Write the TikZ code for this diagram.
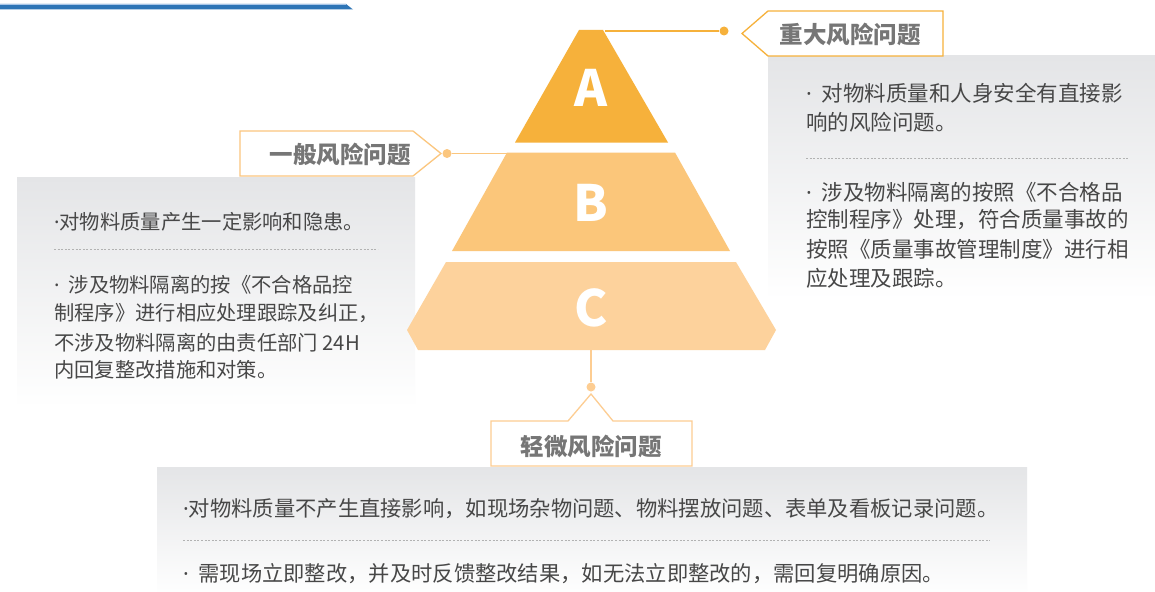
\documentclass[tikz,border=0pt]{standalone}
\usepackage{fontspec}
\newfontfamily\cjk{Noto Sans CJK SC}
\newfontfamily\latn{Noto Sans}
\newcommand{\mdot}{{\latn ·}}
\newcommand{\mdotsp}{{\latn ·}\hspace{0.45em}}
\definecolor{barblue}{HTML}{2E75B6}
\definecolor{barlight}{HTML}{A9C6E8}
\definecolor{cA}{HTML}{F6B13B}
\definecolor{cB}{HTML}{FBC67A}
\definecolor{cC}{HTML}{FDD29C}
\definecolor{lineB}{HTML}{FBC67E}
\definecolor{lineC}{HTML}{FDCD92}
\definecolor{boxgray}{HTML}{E4E5E7}
\definecolor{textgray}{HTML}{474747}
\definecolor{lblgray}{HTML}{767676}
\begin{document}
\begin{tikzpicture}[x=1pt,y=-1pt,
  bodyR/.style={font=\cjk\fontsize{21.5}{29}\selectfont, text=textgray, anchor=west, inner sep=0},
  bodyL/.style={font=\cjk\fontsize{20.3}{29}\selectfont, text=textgray, anchor=west, inner sep=0},
  bodyB/.style={font=\cjk\fontsize{21.3}{29}\selectfont, text=textgray, anchor=west, inner sep=0},
  lbl/.style={font=\cjk\bfseries\fontsize{23.5}{27}\selectfont, text=lblgray, inner sep=0},
  letter/.style={font=\cjk\bfseries\fontsize{50}{50}\selectfont, text=white, inner sep=0},
  sepline/.style={draw=gray!60, line width=0.6pt, dash pattern=on 2pt off 1.6pt},
  dotnode/.style={circle, inner sep=0, minimum size=9pt},
  conn/.style={line width=1.3pt},
  frame/.style={line width=1.3pt, fill=white}
]
\useasboundingbox (0,0) rectangle (1155,591);
\fill[white] (0,0) rectangle (1155,591);

% top blue bar
\fill[barblue] (0,4) -- (346,4) -- (353,9.5) -- (0,9.5) -- cycle;
\draw[barlight, line width=0.8pt] (0,4.2) -- (346,4.2);

% gray text boxes
\shade[top color=boxgray, bottom color=white] (768,56) rectangle (1155,300);
\shade[top color=boxgray, bottom color=white] (17,177) rectangle (415,408);
\shade[top color=boxgray, bottom color=white!96!boxgray] (157,467) rectangle (1027,591);

% pyramid
\fill[cA] (579,30) -- (603,30) -- (668,142.5) -- (515,142.5) -- cycle;
\fill[cB] (507,152.5) -- (675,152.5) -- (730,251) -- (452,251) -- cycle;
\fill[cC] (446,262) -- (736,262) -- (776,330) -- (765,350) -- (418,350) -- (407,330) -- cycle;
\node[letter] (la) at (591,88) {A};
\node[letter] (lb) at (591,203) {B};
\node[letter] (lc) at (591,308) {C};

\coordinate (Atr) at (605,31);
\coordinate (Btl) at (507,153.5);
\coordinate (Cbot) at (591,350);

% label: major
\draw[cA, frame] (742,33.5) -- (768,11) -- (943,11) -- (943,56) -- (768,56) -- cycle;
\node[lbl] (tA) at (850,34) {重大风险问题};
\node[dotnode, fill=cA] (dA) at (724,31) {};
\draw[cA, conn] (Atr) -- (dA);

% label: general
\draw[lineB, frame] (240,131) -- (413,131) -- (441,153.5) -- (413,176) -- (240,176) -- cycle;
\node[lbl] (tB) at (340,154) {一般风险问题};
\node[dotnode, fill=lineB] (dB) at (447,153.5) {};
\draw[lineB, conn] (dB) -- (Btl);

% label: minor
\draw[lineC, frame] (491,466) -- (491,421) -- (568,421) -- (591,394) -- (613,421) -- (692,421) -- (692,466) -- cycle;
\node[lbl] (tC) at (591,446) {轻微风险问题};
\node[dotnode, fill=lineC] (dC) at (591,387) {};
\draw[lineC, conn] (Cbot) -- (dC);

% right box text
\node[bodyR] (r1) at (806,93) {\mdotsp 对物料质量和人身安全有直接影};
\node[bodyR] (r2) at (806,122) {响的风险问题。};
\draw[sepline] (806,158) -- (1128,158);
\node[bodyR] (r3) at (806,192) {\mdotsp 涉及物料隔离的按照《不合格品};
\node[bodyR] (r4) at (806,220) {控制程序》处理，符合质量事故的};
\node[bodyR] (r5) at (806,249) {按照《质量事故管理制度》进行相};
\node[bodyR] (r6) at (806,278) {应处理及跟踪。};

% left box text
\node[bodyL] (l1) at (54,222) {\mdot 对物料质量产生一定影响和隐患。};
\draw[sepline] (54,249) -- (378,249);
\node[bodyL] (l2) at (54,285) {\mdotsp 涉及物料隔离的按《不合格品控};
\node[bodyL] (l3) at (54,313) {制程序》进行相应处理跟踪及纠正，};
\node[bodyL] (l4) at (54,343) {不涉及物料隔离的由责任部门 24H};
\node[bodyL] (l5) at (54,370) {内回复整改措施和对策。};

% bottom box text
\node[bodyB] (b1) at (183,509) {\mdot 对物料质量不产生直接影响，如现场杂物问题、物料摆放问题、表单及看板记录问题。};
\draw[sepline] (183,540) -- (990,540);
\node[bodyB] (b2) at (183,574) {\mdotsp 需现场立即整改，并及时反馈整改结果，如无法立即整改的，需回复明确原因。};
\end{tikzpicture}
\end{document}
